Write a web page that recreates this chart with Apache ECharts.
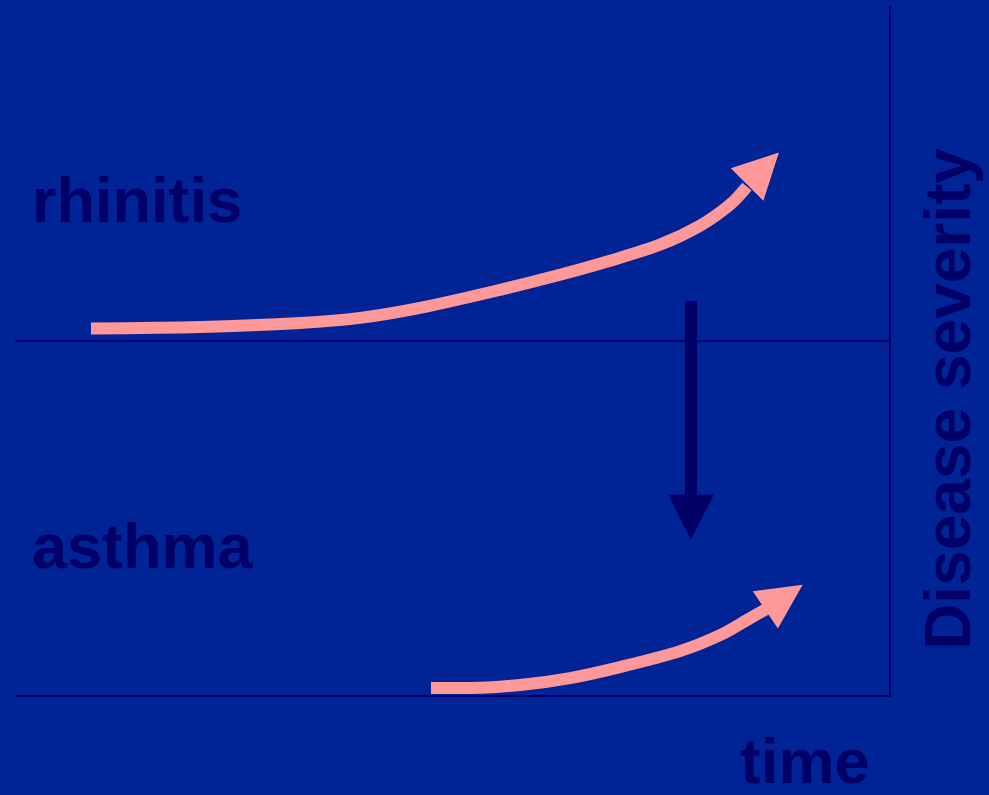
<!DOCTYPE html>
<html>
<head>
<meta charset="utf-8">
<script src="https://cdn.jsdelivr.net/npm/echarts@6/dist/echarts.min.js"></script>
<style>
html,body{margin:0;padding:0;background:#002395;}
#chart{width:989px;height:795px;}
</style>
</head>
<body>
<div id="chart"></div>
<script>
// Rhinitis severity over time (top panel)
const timeRhinitis = [8.58, 21.05, 32.49, 39.36, 46.22, 55.38, 62.24, 67.96, 73.68, 78.26, 81.69, 83.64];
const severityRhinitis = [3.75, 4.20, 5.41, 6.91, 9.91, 15.32, 19.82, 24.02, 28.83, 34.53, 40.84, 46.25];
const headRhinitis = [85.47, 51.65];
// Asthma severity over time (bottom panel)
const timeAsthma = [47.48, 51.95, 57.67, 63.39, 69.11, 75.97, 80.55, 83.98, 85.81];
const severityAsthma = [2.25, 2.25, 3.09, 5.06, 8.15, 12.64, 17.13, 21.91, 24.44];
const headAsthma = [87.87, 27.81];
// Transition arrow rhinitis -> asthma (bottom panel units)
const transitionTime = [77.23, 77.23];
const transitionLevel = [111.24, 56.74];
const transitionHead = [77.23, 50.42];

const navy = '#000066';
const pink = '#FF9999';
const font = '"Liberation Sans", Arial, sans-serif';

const zip = (xs, ys) => xs.map((x, i) => [x, ys[i]]);

const chart = echarts.init(document.getElementById('chart'), null, {renderer: 'canvas'});

const axisX = (gi) => ({
  type: 'value', gridIndex: gi, min: 0, max: 100,
  axisLine: {show: true, onZero: false, lineStyle: {color: navy, width: 2}},
  axisTick: {show: false}, axisLabel: {show: false}, splitLine: {show: false}
});
const axisY = (gi) => ({
  type: 'value', gridIndex: gi, min: 0, max: 100, position: 'right',
  axisLine: {show: true, onZero: false, lineStyle: {color: navy, width: 2}},
  axisTick: {show: false}, axisLabel: {show: false}, splitLine: {show: false}
});

chart.setOption({
  backgroundColor: '#002395',
  animation: false,
  grid: [
    {left: 16, right: 99, top: 7, height: 334},
    {left: 16, right: 99, top: 341, height: 355}
  ],
  xAxis: [axisX(0), axisX(1)],
  yAxis: [axisY(0), axisY(1)],
  series: [
    {
      type: 'line', xAxisIndex: 0, yAxisIndex: 0, smooth: 0.3,
      symbol: 'none', data: zip(timeRhinitis, severityRhinitis),
      lineStyle: {color: pink, width: 12, cap: 'butt', join: 'round'}
    },
    {
      type: 'scatter', xAxisIndex: 0, yAxisIndex: 0, symbol: 'triangle',
      symbolSize: [46, 45], symbolRotate: -45, data: [headRhinitis],
      itemStyle: {color: pink, opacity: 1}, clip: false
    },
    {
      type: 'line', xAxisIndex: 1, yAxisIndex: 1, smooth: 0.3,
      symbol: 'none', data: zip(timeAsthma, severityAsthma),
      lineStyle: {color: pink, width: 12, cap: 'butt', join: 'round'}
    },
    {
      type: 'scatter', xAxisIndex: 1, yAxisIndex: 1, symbol: 'triangle',
      symbolSize: [45, 45], symbolRotate: -56, data: [headAsthma],
      itemStyle: {color: pink, opacity: 1}, clip: false
    },
    {
      type: 'line', xAxisIndex: 1, yAxisIndex: 1, symbol: 'none', clip: false,
      data: zip(transitionTime, transitionLevel),
      lineStyle: {color: navy, width: 12, cap: 'butt'}
    },
    {
      type: 'scatter', xAxisIndex: 1, yAxisIndex: 1, symbol: 'triangle', clip: false,
      symbolSize: [46, 45], symbolRotate: 180, data: [transitionHead],
      itemStyle: {color: navy, opacity: 1}
    }
  ],
  graphic: [
    {type: 'text', x: 32, y: 205, style: {text: 'rhinitis', font: 'bold 63px ' + font, fill: navy, textAlign: 'left', textVerticalAlign: 'middle'}},
    {type: 'text', x: 32, y: 551, style: {text: 'asthma', font: 'bold 63px ' + font, fill: navy, textAlign: 'left', textVerticalAlign: 'middle'}},
    {type: 'text', x: 740, y: 766, style: {text: 'time', font: 'bold 63px ' + font, fill: navy, textAlign: 'left', textVerticalAlign: 'middle'}},
    {type: 'text', x: 952, y: 399, rotation: Math.PI / 2, style: {text: 'Disease severity', font: 'bold 64px ' + font, fill: navy, textAlign: 'center', textVerticalAlign: 'middle'}}
  ]
});
</script>
</body>
</html>
